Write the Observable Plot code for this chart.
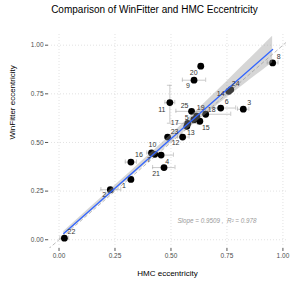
<!DOCTYPE html>
<html>
<head>
<meta charset="utf-8">
<script src="https://cdn.jsdelivr.net/npm/d3@7"></script>
<script src="https://cdn.jsdelivr.net/npm/@observablehq/plot@0.6"></script>
<style>
  html, body { margin: 0; padding: 0; background: #fff; }
  svg { display: block; }
</style>
</head>
<body>
<div id="chart"></div>
<script>
// ---- data ----
const ids       = [1, 2, 3, 4, 5, 6, 7, 8, 9, 10, 11, 12, 13, 14, 15, 16, 17, 18, 19, 20, 21, 22, 23, 24, 25];
const hmc       = [0.321, 0.229, 0.823, 0.456, 0.602, 0.722, 0.428, 0.954, 0.603, 0.413, 0.495, 0.485, 0.571, 0.758, 0.629, 0.321, 0.575, 0.655, 0.615, 0.633, 0.469, 0.024, 0.552, 0.767, 0.592];
const winfitter = [0.310, 0.257, 0.671, 0.435, 0.617, 0.677, 0.439, 0.909, 0.820, 0.446, 0.705, 0.528, 0.583, 0.763, 0.609, 0.399, 0.598, 0.645, 0.635, 0.892, 0.371, 0.008, 0.528, 0.772, 0.660];
// horizontal error bars (HMC) – null where none is visible
const hmcLo     = [null, 0.187, 0.797, 0.410, null, 0.691, null, 0.930, 0.551, 0.392, 0.473, null, null, null, null, 0.296, 0.529, 0.611, null, null, 0.418, 0.004, 0.529, null, 0.522];
const hmcHi     = [null, 0.276, 0.848, 0.511, null, 0.789, null, 0.978, 0.655, 0.432, 0.517, null, null, null, null, 0.346, 0.618, 0.767, null, null, 0.518, 0.043, 0.581, null, 0.655];
// vertical error bars (WinFitter)
const winLo     = [null, null, null, null, null, null, null, null, null, null, 0.599, null, null, null, null, null, null, null, null, null, null, null, null, null, null];
const winHi     = [null, null, null, null, null, null, null, null, null, null, 0.794, null, null, null, null, null, null, null, null, null, null, null, null, null, null];
// fitted line and its confidence band as drawn in the reference
const fitX      = [0.021, 0.25, 0.5, 0.75, 0.954];
const fitY      = [0.032, 0.265, 0.519, 0.772, 0.978];
const fitHalf   = [0.011, 0.014, 0.021, 0.042, 0.068];
const xTicks = [0, 0.25, 0.5, 0.75, 1];
const yTicks = [0, 0.25, 0.5, 0.75, 1];
const titleText = "Comparison of WinFitter and HMC Eccentricity";
const xTitle = "HMC eccentricity";
const yTitle = "WinFitter eccentricity";
const fitText = "Slope = 0.9509 ,  R² = 0.978";

// ---- label placement (layout, pixels) ----
const labelDx = [-7, -6, 6, 6, -7, 6, -6, 6, -6, 1, -8, 8, 4, -8, 6, 8, -13, 6, 4, -7, -8, 7, -8, 5, -7];
const labelDy = [6, 5, -6, 7, -2, -6, 5, -6, 6, -8, 7, 6, 6, 2, 6, -7, -1, -5, -8, 7, 6, -6, -5, -6, -6];

const rows = ids.map((id, i) => ({
  id, x: hmc[i], y: winfitter[i],
  xlo: hmcLo[i], xhi: hmcHi[i], ylo: winLo[i], yhi: winHi[i],
  dx: labelDx[i], dy: labelDy[i]
}));
const hBars = rows.filter(d => d.xlo != null);
const vBars = rows.filter(d => d.ylo != null);
const fitRows = fitX.map((x, i) => ({x, y: fitY[i], lo: fitY[i] - fitHalf[i], hi: fitY[i] + fitHalf[i]}));

const xDomain = [-0.047, 1.016];
const yDomain = [-0.045, 1.055];
const identity = [Math.min(xDomain[0], yDomain[0]), Math.max(xDomain[1], yDomain[1])].map(v => ({x: v, y: v}));
const capY = 0.011, capX = 0.011;
const font = "Liberation Sans, Arial, Helvetica, sans-serif";
const errCol = "#a8a8a8";

const chart = Plot.plot({
  width: 291,
  height: 291,
  marginLeft: 48,
  marginRight: 5,
  marginTop: 34,
  marginBottom: 43,
  style: {fontFamily: font, background: "#fff"},
  x: {domain: xDomain},
  y: {domain: yDomain},
  marks: [
    Plot.gridX(xTicks, {stroke: "#cfcfcf", strokeOpacity: 1, strokeDasharray: "1,2", strokeWidth: 0.6}),
    Plot.gridY(yTicks, {stroke: "#cfcfcf", strokeOpacity: 1, strokeDasharray: "1,2", strokeWidth: 0.6}),
    Plot.axisX(xTicks, {tickFormat: d3.format(".2f"), tickSize: 3, tickPadding: 2, fontSize: 6.5, color: "#4d4d4d", stroke: "#555", label: null}),
    Plot.axisY(yTicks, {tickFormat: d3.format(".2f"), tickSize: 3, tickPadding: 2, fontSize: 6.5, color: "#4d4d4d", stroke: "#555", label: null}),
    // identity line
    Plot.line(identity, {x: "x", y: "y", stroke: "#bbbbbb", strokeWidth: 1, strokeDasharray: "3,3", clip: true}),
    // horizontal error bars with caps
    Plot.ruleY(hBars, {y: "y", x1: "xlo", x2: "xhi", stroke: errCol, strokeWidth: 0.6}),
    Plot.ruleX(hBars, {x: "xlo", y1: d => d.y - capY, y2: d => d.y + capY, stroke: errCol, strokeWidth: 0.6}),
    Plot.ruleX(hBars, {x: "xhi", y1: d => d.y - capY, y2: d => d.y + capY, stroke: errCol, strokeWidth: 0.6}),
    // vertical error bars with caps
    Plot.ruleX(vBars, {x: "x", y1: "ylo", y2: "yhi", stroke: errCol, strokeWidth: 0.6}),
    Plot.ruleY(vBars, {y: "ylo", x1: d => d.x - capX, x2: d => d.x + capX, stroke: errCol, strokeWidth: 0.6}),
    Plot.ruleY(vBars, {y: "yhi", x1: d => d.x - capX, x2: d => d.x + capX, stroke: errCol, strokeWidth: 0.6}),
    // points
    Plot.dot(rows, {x: "x", y: "y", r: 3.4, fill: "#000", stroke: null}),
    // fitted line with confidence band
    Plot.areaY(fitRows, {x: "x", y1: "lo", y2: "hi", curve: "natural", fill: "#999999", fillOpacity: 0.4}),
    Plot.line(fitRows, {x: "x", y: "y", curve: "natural", stroke: "#3366FF", strokeWidth: 1.3}),
    // point labels (one mark each so every label has its own offset)
    ...rows.map(d => Plot.text([d], {x: "x", y: "y", text: r => String(r.id), dx: d.dx, dy: d.dy, fontSize: 7, fill: "#333"})),
    // fit annotation
    Plot.text([fitText], {frameAnchor: "bottom-right", lineAnchor: "middle", dx: -30, dy: -28, textAnchor: "end", fontSize: 6.3, fill: "#999", fontStyle: "italic"}),
    // titles
    Plot.text([titleText], {frameAnchor: "top", lineAnchor: "middle", dx: -13, dy: -25, fontSize: 10, fill: "#000"}),
    Plot.text([xTitle], {frameAnchor: "bottom", lineAnchor: "middle", dy: 25, fontSize: 8, fill: "#000"}),
    Plot.text([yTitle], {frameAnchor: "left", lineAnchor: "middle", dx: -36, dy: -2, rotate: -90, fontSize: 8, fill: "#000"})
  ]
});
document.getElementById("chart").appendChild(chart);
</script>
</body>
</html>
